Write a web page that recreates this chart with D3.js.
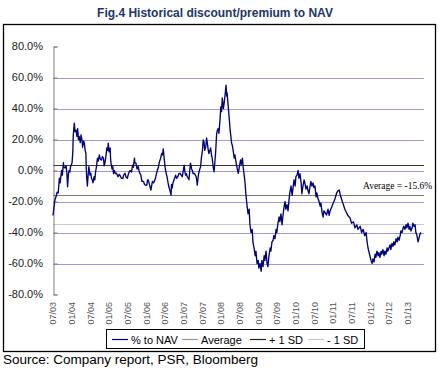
<!DOCTYPE html>
<html><head><meta charset="utf-8">
<script src="https://cdn.jsdelivr.net/npm/d3@7"></script>
<style>body{margin:0;background:#fff}svg{display:block}</style>
</head><body>
<svg id="c" width="439" height="369"></svg>
<script>
const titleText = "Fig.4 Historical discount/premium to NAV";
const sourceText = "Source: Company report, PSR, Bloomberg";
const yTickValues = [80,60,40,20,0,-20,-40,-60,-80];
const gridValues = [60,40,20,0,-20,-40,-60];
const xTickYears = [2003.5,2004,2004.5,2005,2005.5,2006,2006.5,2007,2007.5,2008,2008.5,2009,2009.5,2010,2010.5,2011,2011.5,2012,2012.5,2013];
const xTickLabels = ["07/03","01/04","07/04","01/05","07/05","01/06","07/06","01/07","07/07","01/08","07/08","01/09","07/09","01/10","07/10","01/11","07/11","01/12","07/12","01/13"];
const averagePct = -15.6;
const plusSDPct = 3.3;
const minusSDPct = -34.5;
const legendLabels = ["% to NAV","Average","+ 1 SD","- 1 SD"];

const navYear = [
2003.50,2003.52,2003.54,2003.55,2003.58,2003.61,2003.64,2003.67,2003.69,2003.73,2003.75,2003.78,2003.79,2003.82,2003.85,2003.87,2003.89,2003.91,2003.93,2003.95,2003.97,
2004.01,2004.03,2004.04,2004.07,2004.09,2004.12,2004.14,2004.16,2004.18,2004.20,2004.23,2004.25,2004.28,2004.29,2004.32,2004.34,2004.36,2004.38,2004.39,2004.40,2004.42,2004.44,2004.46,2004.49,
2004.51,2004.53,2004.55,2004.57,2004.60,2004.62,2004.64,2004.66,2004.69,2004.71,2004.74,2004.77,2004.80,2004.82,2004.85,2004.87,2004.89,2004.92,2004.94,2004.96,2004.98,
2005.00,2005.03,2005.04,2005.05,2005.08,2005.10,2005.12,2005.14,2005.17,2005.20,2005.24,2005.27,2005.29,2005.33,2005.37,2005.39,2005.43,2005.45,2005.49,
2005.52,2005.56,2005.60,2005.63,2005.65,2005.68,2005.69,2005.72,2005.75,2005.78,2005.81,2005.85,2005.88,2005.92,2005.95,2005.98,
2006.01,2006.03,2006.05,2006.08,2006.12,2006.16,2006.19,2006.23,2006.26,2006.29,2006.32,2006.34,2006.38,2006.41,2006.43,2006.45,2006.48,
2006.50,2006.52,2006.54,2006.56,2006.58,2006.60,2006.63,2006.66,2006.67,2006.69,2006.71,2006.74,2006.77,2006.78,2006.81,2006.84,2006.87,2006.90,2006.93,2006.96,2006.98,
2007.01,2007.03,2007.05,2007.07,2007.09,2007.12,2007.14,2007.16,2007.18,2007.21,2007.23,2007.25,2007.28,2007.31,2007.33,2007.35,2007.36,2007.39,2007.41,2007.43,2007.45,2007.47,
2007.50,2007.52,2007.54,2007.56,2007.59,2007.61,2007.63,2007.65,2007.67,2007.70,2007.72,2007.74,2007.76,2007.79,2007.81,2007.83,2007.85,2007.88,2007.90,2007.92,2007.94,2007.97,2007.99,
2008.01,2008.03,2008.06,2008.08,2008.11,2008.13,2008.15,2008.16,2008.19,2008.22,2008.24,2008.26,2008.28,2008.30,2008.32,2008.35,2008.37,2008.40,2008.42,2008.44,2008.46,2008.49,
2008.52,2008.54,2008.57,2008.59,2008.61,2008.64,2008.66,2008.69,2008.72,2008.75,2008.77,2008.80,2008.83,2008.85,2008.88,2008.91,2008.93,2008.96,2008.99,
2009.01,2009.04,2009.07,2009.09,2009.12,2009.15,2009.17,2009.20,2009.23,2009.25,2009.28,2009.31,2009.33,2009.36,2009.39,2009.41,2009.44,2009.47,2009.49,
2009.52,2009.55,2009.57,2009.60,2009.63,2009.65,2009.68,2009.71,2009.73,2009.76,2009.79,2009.82,2009.84,2009.87,2009.90,2009.92,2009.95,2009.98,
2010.00,2010.03,2010.06,2010.08,2010.11,2010.14,2010.16,2010.19,2010.22,2010.24,2010.27,2010.30,2010.32,2010.35,2010.38,2010.40,2010.43,2010.46,2010.48,
2010.51,2010.54,2010.56,2010.59,2010.62,2010.65,2010.67,2010.70,2010.73,2010.75,2010.78,2010.82,2010.86,2010.89,2010.91,2010.95,
2011.00,2011.05,2011.09,2011.13,2011.16,2011.19,2011.23,2011.27,2011.31,2011.36,2011.39,2011.45,2011.49,2011.54,2011.58,2011.63,2011.66,2011.72,2011.76,2011.80,2011.84,2011.88,2011.90,2011.93,2011.96,2011.98,
2012.01,2012.04,2012.06,2012.09,2012.12,2012.14,2012.17,2012.20,2012.22,2012.25,2012.28,2012.30,2012.33,2012.36,2012.38,2012.41,2012.44,2012.46,2012.49,
2012.52,2012.54,2012.57,2012.60,2012.62,2012.65,2012.68,2012.71,2012.73,2012.76,2012.79,2012.81,2012.84,2012.87,2012.89,2012.92,2012.95,2012.97,
2013.00,2013.03,2013.05,2013.08,2013.11,2013.13,2013.16,2013.19,2013.21,2013.24,2013.27,2013.29,2013.32,2013.35
];
const navPct = [
-29,-25,-21,-19,-17,-14,-14.5,-5,-8,0,-3,5,2,1.6,3,-1,-10.5,-3,0,-1,2.5,
5,12,22,30.6,25,26,22,27,20,22,18,23,19,15,19,17.5,13,11,2,-4,-10,-3,2.5,-3,
-1.7,-5,-6,-8,-4,-6,-0.8,2,8,6,10,7,6.8,9,8,3,4.8,10,14.5,13,17.7,
12,14.5,8,5,1,2.5,-2,0,-2,-1.8,-4,-2.5,-3,-5,-5,-3,-1.8,-4,-5,
-2,0,-1,3.5,2,8,5,4.8,1,2.5,-1,-3,-7,-7,-9,-9.5,
-9.4,-6,-6,-9,-12.6,-7,-8,-6,-3,0,2,4.8,8,11,10,14,6.8,
2,-0.8,-3,-5,-8,-10.5,-13,-15.8,-9,-11.3,-8,-6,-4,-3,-5,-4,-2,-1.8,-3,-4,-1,
3.5,-1,-3,-2,-4,-5,-6,0,4.8,1,0,-2,-1.8,-3,-4,-7,-9.4,-3,-0.8,1,2.5,8,
13,19.7,18.6,13,15.4,21,17.7,14,11,13,14.5,10,8,1.6,-0.8,5,11,24,26,27,24,33,41,
38,46.8,40,43.5,50,55,48,50,41,32.6,26,22,17.7,16,13,8,10,5,2.5,0,-1.8,3,
6.8,4,8,2,-1.8,-8,-15,-22,-28,-25,-35,-40,-38,-46,-50,-55,-52,-60,-58,
-63,-60,-65,-58,-62,-55,-58,-52,-60,-62,-55,-50,-52,-46,-45,-42,-44,-38,-40,
-34,-30,-33,-28,-35,-30,-24,-20,-25,-22,-26,-18,-14,-10,-16,-12,-6,-10,
-4,-3,0,-5,-2,-8,-15,-10,-6,-8,-12,-10,-12.6,-15,-10,-7,-10,-8,-11,
-10,-17,-14.5,-18,-20,-23,-21,-27,-30,-26,-27,-28.7,-25,-29,-26.5,-24,
-21,-18,-14.5,-13,-12.6,-16,-19,-22,-25,-27.4,-29,-30.6,-34,-33,-37,-35,-38,-36,-40,-38,-42,-40,-45,-50,-53,-55,
-58,-60,-57,-59,-54,-56,-52,-55,-53,-56,-52,-54,-51,-55,-52,-54,-50,-52,-50,
-48,-51,-47,-49,-46,-48,-44,-46,-43,-45,-42,-39,-40,-37,-36,-38,-35,-37,
-34,-38,-36,-39,-37,-34,-36,-35,-40,-42,-46,-44,-41,-40
];

const svg = d3.select("#c");
const plotLeft = 53, plotRight = 424, plotTop = 46.5, plotBottom = 294.5;
const x = d3.scaleLinear().domain([2003.5, 2013.0]).range([53, 408]);
const y = d3.scaleLinear().domain([-80, 80]).range([plotBottom, plotTop]);

// outer frame
svg.append("rect").attr("x",3.5).attr("y",24.5).attr("width",432).attr("height",327)
  .attr("fill","none").attr("stroke","#000").attr("stroke-width",1.3);

// title
svg.append("text").attr("x",215).attr("y",17).attr("text-anchor","middle")
  .attr("font-family","Arial, 'Liberation Sans', sans-serif").attr("font-weight","bold")
  .attr("font-size",12).attr("fill","#1c3768").text(titleText);

// gridlines
svg.append("g").selectAll("line").data(gridValues).join("line")
  .attr("x1",plotLeft).attr("x2",plotRight)
  .attr("y1",d=>Math.round(y(d))+0.5).attr("y2",d=>Math.round(y(d))+0.5)
  .attr("stroke","#9a9ae8").attr("stroke-width",1);

// reference lines
const refs = [
  {v: minusSDPct, c: "#c8c8c8"},
  {v: averagePct, c: "#7a7a7a"},
  {v: plusSDPct, c: "#3a3a3a"}
];
svg.append("g").selectAll("line").data(refs).join("line")
  .attr("x1",plotLeft).attr("x2",plotRight)
  .attr("y1",d=>Math.round(y(d.v))+0.5).attr("y2",d=>Math.round(y(d.v))+0.5)
  .attr("stroke",d=>d.c).attr("stroke-width",1);

// y axis
const yAxis = d3.axisRight(y).tickValues(yTickValues).tickSize(4).tickFormat(()=>"");
const ga = svg.append("g").attr("transform",`translate(${plotLeft+0.5},0)`).call(yAxis);
ga.select(".domain").attr("stroke","#808080");
ga.selectAll(".tick line").attr("stroke","#808080");
svg.append("g").selectAll("text").data(yTickValues).join("text")
  .attr("x",43).attr("y",d=>y(d)).attr("dy","0.35em").attr("text-anchor","end")
  .attr("font-family","Arial, 'Liberation Sans', sans-serif").attr("font-size",11)
  .attr("fill","#222").text(d=>d.toFixed(1)+"%");

// x labels
svg.append("g").selectAll("text").data(xTickYears).join("text")
  .attr("transform",(d)=>`translate(${x(d)},302) rotate(-90)`)
  .attr("dy","0.35em").attr("text-anchor","end")
  .attr("font-family","Arial, 'Liberation Sans', sans-serif").attr("font-size",9)
  .attr("fill","#555").text((d,i)=>xTickLabels[i]);

// series
const pts = navYear.map((t,i)=>[t, navPct[i]]);
svg.append("path").datum(pts)
  .attr("d", d3.line().x(d=>x(d[0])).y(d=>y(d[1])))
  .attr("fill","none").attr("stroke","#000080").attr("stroke-width",1.35)
  .attr("stroke-linejoin","round");

// average annotation
svg.append("text").attr("x",363).attr("y",189)
  .attr("font-family","'Times New Roman', 'Liberation Serif', serif").attr("font-size",9.5)
  .attr("fill","#000").text("Average = " + averagePct.toFixed(1) + "%");

// legend
svg.append("rect").attr("x",106.5).attr("y",329.5).attr("width",258).attr("height",19)
  .attr("fill","#fff").attr("stroke","#000").attr("stroke-width",1);
const legendColors = ["#000080","#999999","#222222","#c8c8c8"];
const legendX = [112, 182, 250, 308];
const lg = svg.append("g").selectAll("g").data(legendLabels).join("g")
  .attr("transform",(d,i)=>`translate(${legendX[i]},0)`);
lg.append("line").attr("x1",0).attr("x2",16).attr("y1",339.5).attr("y2",339.5)
  .attr("stroke",(d,i)=>legendColors[i]).attr("stroke-width",1.2);
lg.append("text").attr("x",19).attr("y",343.5)
  .attr("font-family","Arial, 'Liberation Sans', sans-serif").attr("font-size",11)
  .attr("fill","#000").text(d=>d);

// source
svg.append("text").attr("x",3).attr("y",364)
  .attr("font-family","Arial, 'Liberation Sans', sans-serif").attr("font-size",13.5)
  .attr("fill","#000").text(sourceText);
</script>
</body></html>
